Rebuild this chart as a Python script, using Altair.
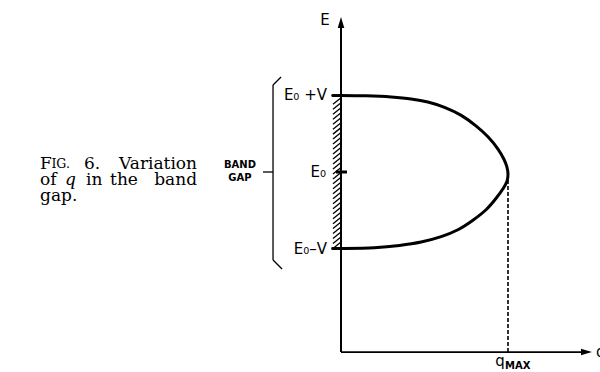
import altair as alt
import pandas as pd
import numpy as np

# Wave number q against energy E inside the band gap (E0 = 0, V = 1, q_max = 1)
curve_q = [-0.05, 0.00, 0.15, 0.30, 0.42, 0.52, 0.62, 0.72, 0.81, 0.88, 0.94,
           0.975, 0.993, 1.00,
           0.994, 0.97, 0.93, 0.87, 0.79, 0.70, 0.60, 0.48, 0.35, 0.20, 0.00,
           -0.05]
curve_E = [1.00, 1.00, 0.995, 0.98, 0.955, 0.915, 0.845, 0.74, 0.60, 0.46,
           0.30, 0.17, 0.07, -0.03,
           -0.12, -0.22, -0.34, -0.49, -0.63, -0.755, -0.845, -0.915, -0.96,
           -0.99, -1.00, -1.00]

# Axis extents
E_AXIS_TOP = 1.93
Q_AXIS_END = 1.47
AXIS_E = -2.353          # energy level at which the q axis runs
Q_MAX = 1.0

# Scale domains
Q_DOMAIN = [-2.042, 1.551]
E_DOMAIN = [-2.614, 2.248]

W, H = 600, 372

xs = alt.Scale(domain=Q_DOMAIN, nice=False, zero=False)
ys = alt.Scale(domain=E_DOMAIN, nice=False, zero=False)


def X(field="q"):
    return alt.X(f"{field}:Q", scale=xs, axis=None)


def Y(field="E"):
    return alt.Y(f"{field}:Q", scale=ys, axis=None)


def segs(rows, width, dash=None):
    df = pd.DataFrame(rows, columns=["q", "E", "q2", "E2"])
    kw = dict(color="black", strokeWidth=width, strokeCap="butt")
    if dash:
        kw["strokeDash"] = dash
    return alt.Chart(df).mark_rule(**kw).encode(
        x=X(), y=Y(), x2="q2:Q", y2="E2:Q")


def texts(rows, **props):
    df = pd.DataFrame(rows, columns=["q", "E", "t"])
    return alt.Chart(df).mark_text(color="black", **props).encode(
        x=X(), y=Y(), text="t:N")


# Axes
axes = segs([[0, AXIS_E, 0, E_AXIS_TOP]], 2.0)
qaxis = segs([[0, AXIS_E, Q_AXIS_END, AXIS_E]], 1.7)

up_arrow = alt.Chart(pd.DataFrame({"q": [0.0], "E": [1.954]})).mark_point(
    shape="M0,-1L0.6,1L-0.6,1Z", size=121, filled=True, color="black", opacity=1
).encode(x=X(), y=Y())
right_arrow = alt.Chart(pd.DataFrame({"q": [Q_AXIS_END], "E": [AXIS_E]})).mark_point(
    shape="M1,0L-1,-0.6L-1,0.6Z", size=121, filled=True, color="black", opacity=1
).encode(x=X(), y=Y())

# q(E) curve
curve_df = pd.DataFrame({"q": curve_q, "E": curve_E, "i": range(len(curve_q))})
curve = alt.Chart(curve_df).mark_line(
    color="black", strokeWidth=3, interpolate="catmull-rom", strokeCap="round"
).encode(x=X(), y=Y(), order="i:O")

# q_max guide and E0 tick
qmax_line = segs([[Q_MAX, AXIS_E, Q_MAX, -0.05]], 1.6, dash=[4, 2])
e0_tick = segs([[-0.03, 0.0, 0.036, 0.0]], 3.0)

# Hatched strip along the gap
hatch_start = np.arange(-1.0, 0.93, 0.065)
hatch = segs([[-0.048, e, 0.0, e + 0.085] for e in hatch_start], 1.3)

# Bracket marking the band gap
brace = segs([
    [-0.359, 1.242, -0.407, 1.137],
    [-0.407, 1.137, -0.407, -1.150],
    [-0.407, -1.150, -0.353, -1.268],
    [-0.467, 0.0, -0.407, 0.0],
], 1.3)

# Labels
sans = "DejaVu Sans"
serif = "DejaVu Serif"
e_label = texts([[-0.096, 1.987, "E"]], font=sans, fontSize=15, align="center",
                baseline="middle")
e_levels = texts([[-0.084, 1.0, "E₀ +V"], [-0.090, 0.0, "E₀"],
                  [-0.084, -1.0, "E₀–V"]],
                 font=sans, fontSize=15, align="right", baseline="middle")
gap_label = texts([[-0.605, 0.092, "BAND"], [-0.605, -0.078, "GAP"]],
                  font=sans, fontSize=10, fontWeight="bold", align="center",
                  baseline="middle")
qmax_q = texts([[0.952, -2.47, "q"]], font=sans, fontSize=15, align="center",
               baseline="middle")
qmax_sub = texts([[0.982, -2.536, "MAX"]], font=sans, fontSize=10,
                 fontWeight="bold", align="left", baseline="middle")
q_end = texts([[1.527, -2.353, "q"]], font=sans, fontSize=15, align="left",
              baseline="middle")

# Caption (left-aligned words, right-aligned last word of justified lines)
cap_big = texts([[-1.802, 0.105, "F"], [-1.539, 0.105, "6."],
                 [-1.802, -0.105, "of"], [-1.527, -0.105, "in"],
                 [-1.383, -0.105, "the"], [-1.802, -0.314, "gap."]],
                font=serif, fontSize=17, align="left", baseline="middle")
cap_small = texts([[-1.734, 0.105, "IG."]], font=serif, fontSize=12.5,
                  align="left", baseline="middle")
cap_right = texts([[-0.862, 0.105, "Variation"], [-0.862, -0.105, "band"]],
                  font=serif, fontSize=17, align="right", baseline="middle")
cap_q = texts([[-1.653, -0.105, "q"]], font=serif, fontSize=17,
              fontStyle="italic", align="left", baseline="middle")

chart = alt.layer(
    hatch, axes, qaxis, up_arrow, right_arrow, curve, qmax_line, e0_tick,
    brace, e_label, e_levels, gap_label, qmax_q, qmax_sub, q_end,
    cap_big, cap_small, cap_right, cap_q,
).properties(
    width=W, height=H, padding=0, autosize=alt.AutoSizeParams(type="none"),
    background="white",
).configure_view(stroke=None)

chart.save("out.html", embed_options={"renderer": "svg", "actions": False})
